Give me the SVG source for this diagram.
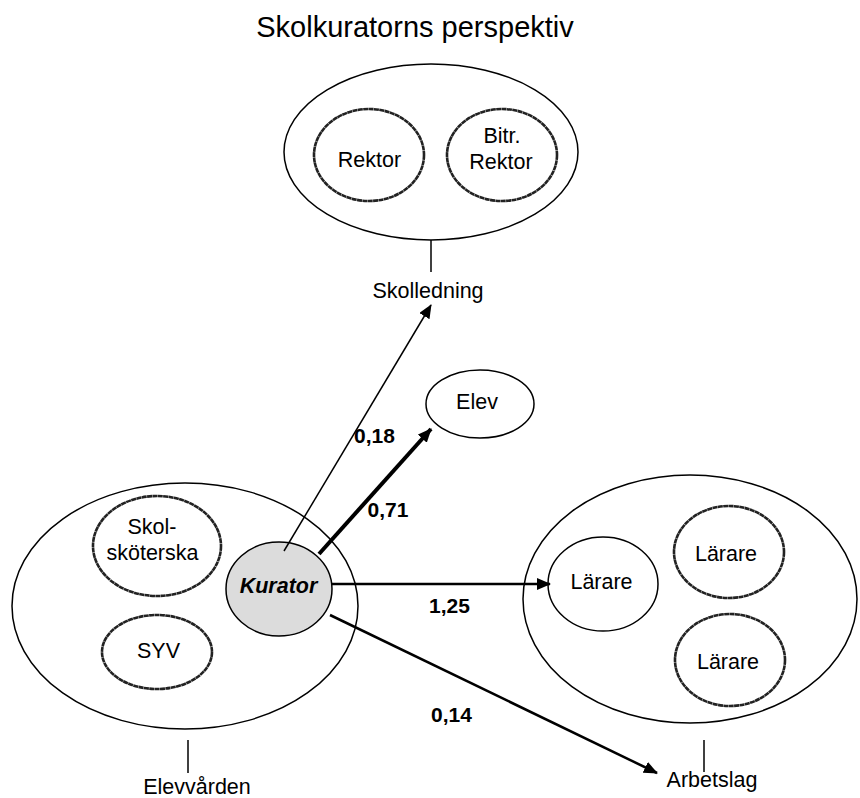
<svg xmlns="http://www.w3.org/2000/svg" width="860" height="798" viewBox="0 0 860 798">
<style>
text{font-family:"Liberation Sans",Arial,sans-serif;fill:#000;text-anchor:middle}
.t{font-size:29px}
.l{font-size:21.5px}
.n{font-size:21px;font-weight:bold}
.k{font-size:21.5px;font-weight:bold;font-style:italic}
.outer{fill:none;stroke:#000;stroke-width:1.5}
.plain{fill:#fff;stroke:#000;stroke-width:1.5}
.rough{fill:none;stroke:#222;stroke-width:2.6;stroke-dasharray:5 0.4}
.tick{stroke:#000;stroke-width:1.5}
.c{fill:none;stroke:#000}
</style>
<defs>
<marker id="ah" viewBox="0 0 14 12" refX="13" refY="6" markerWidth="14" markerHeight="12" markerUnits="userSpaceOnUse" orient="auto">
<path d="M0,0 L14,6 L0,12 z" fill="#000"/>
</marker>
</defs>
<rect width="860" height="798" fill="#fff"/>
<text class="t" x="415" y="37">Skolkuratorns perspektiv</text>

<g id="skolledning">
<ellipse class="outer" cx="431" cy="152" rx="147" ry="88"/>
<line class="tick" x1="431" y1="240" x2="431" y2="272"/>
<text class="l" x="428" y="298">Skolledning</text>
</g>
<g id="rektor">
<ellipse class="rough" cx="369" cy="155" rx="55" ry="46"/>
<text class="l" x="369.5" y="167">Rektor</text>
</g>
<g id="bitr-rektor">
<ellipse class="rough" cx="502" cy="155" rx="55" ry="46"/>
<text class="l" x="502" y="143">Bitr.</text>
<text class="l" x="501" y="169">Rektor</text>
</g>

<g id="elev">
<ellipse class="plain" cx="480" cy="404" rx="54" ry="34"/>
<text class="l" x="477" y="409">Elev</text>
</g>

<g id="elevvarden">
<ellipse class="outer" cx="185" cy="606" rx="173" ry="123"/>
<line class="tick" x1="188" y1="740" x2="188" y2="773"/>
<text class="l" x="197" y="794">Elevvården</text>
</g>
<g id="skolskoterska">
<ellipse class="rough" cx="157" cy="546" rx="64" ry="50"/>
<text class="l" x="152" y="534">Skol-</text>
<text class="l" x="152.5" y="560">sköterska</text>
</g>
<g id="syv">
<ellipse class="rough" cx="157" cy="652" rx="55" ry="37"/>
<text class="l" x="158.5" y="658">SYV</text>
</g>
<g id="kurator">
<ellipse cx="279" cy="589" rx="53" ry="47" fill="#dcdcdc" stroke="#000" stroke-width="1.5"/>
<text class="k" x="278.5" y="593">Kurator</text>
</g>

<g id="arbetslag">
<ellipse class="outer" cx="690" cy="599" rx="167" ry="124"/>
<line class="tick" x1="704" y1="740" x2="704" y2="772"/>
<text class="l" x="712" y="787">Arbetslag</text>
</g>
<g id="larare1">
<ellipse class="plain" cx="603" cy="584" rx="55" ry="47"/>
<text class="l" x="601.5" y="589">Lärare</text>
</g>
<g id="larare2">
<ellipse class="rough" cx="729" cy="552" rx="55" ry="46"/>
<text class="l" x="726" y="561">Lärare</text>
</g>
<g id="larare3">
<ellipse class="rough" cx="730" cy="660" rx="55" ry="46"/>
<text class="l" x="728" y="669">Lärare</text>
</g>

<g id="connectors">
<line class="c" x1="284" y1="551" x2="431" y2="305" stroke-width="1.5" marker-end="url(#ah)"/>
<line class="c" x1="319" y1="554" x2="431" y2="429" stroke-width="4" marker-end="url(#ah)"/>
<line class="c" x1="332" y1="584" x2="550" y2="584" stroke-width="2.5" marker-end="url(#ah)"/>
<line class="c" x1="330" y1="615" x2="657" y2="773" stroke-width="2.5" marker-end="url(#ah)"/>
<text class="n" x="374.5" y="443">0,18</text>
<text class="n" x="388" y="517">0,71</text>
<text class="n" x="449.5" y="613">1,25</text>
<text class="n" x="451.5" y="722">0,14</text>
</g>
</svg>
